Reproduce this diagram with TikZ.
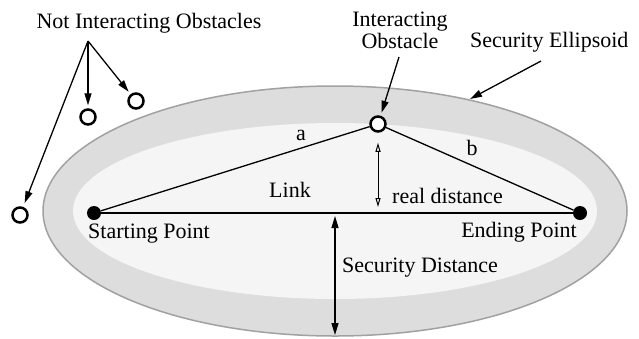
\documentclass[tikz,border=0pt]{standalone}
\usepackage{fontspec}
\setmainfont{Liberation Serif}
\usetikzlibrary{arrows.meta, positioning, calc}
\tikzset{
  obstacle/.style={
    circle, draw=black, line width=2.5pt, fill=white,
    minimum size=15pt, inner sep=0pt
  },
  endpoint/.style={
    circle, fill=black, minimum size=14pt, inner sep=0pt
  },
  lbl/.style={
    font=\fontsize{22}{20}\selectfont, inner sep=0pt
  },
  ptr arrow/.style={
    -{Triangle[length=12pt,width=7pt]}, line width=1.3pt
  },
  dist arrow/.style={
    {Triangle[length=12pt,width=7pt]}-{Triangle[length=12pt,width=7pt]}, line width=1.3pt
  },
  gap arrow/.style={
    {Triangle[open,length=9pt,width=5pt]}-{Triangle[open,length=9pt,width=5pt]}, line width=1pt
  },
  side line/.style={line width=1.3pt},
  link line/.style={line width=2.6pt}
}

\begin{document}
\begin{tikzpicture}[x=1pt, y=-1pt]
  \useasboundingbox (0,0) rectangle (639,338);

  % security ellipsoid
  \draw [draw=gray!74, fill=gray!27, line width=1.5pt] (335,211) ellipse [x radius=292, y radius=125];
  \fill [gray!8] (335,211) ellipse [x radius=262, y radius=88];

  \node (start) [endpoint] at (94,213) {};
  \node (end) [endpoint] at (580,213) {};
  \node (iobs) [obstacle] at (378,124) {};
  \node (nobs1) [obstacle] at (88,117) {};
  \node (nobs2) [obstacle] at (136,101) {};
  \node (nobs3) [obstacle] at (20,215) {};

  \draw [side line] (start) -- (iobs);
  \draw [side line] (iobs) -- (end);
  \draw [link line] (start) -- (end);

  % labels
  \node (nlbl) [lbl, anchor=base] at (149,28) {Not Interacting Obstacles};
  \node (ilbl) [lbl, anchor=base, align=center] at (400,48) {Interacting\\Obstacle};
  \node (elbl) [lbl, anchor=base west] at (470,47) {Security Ellipsoid};
  \node (albl) [lbl, anchor=base] at (301,140) {a};
  \node (blbl) [lbl, anchor=base] at (472,155) {b};
  \node (llbl) [lbl, anchor=base] at (290,197) {Link};
  \node (rlbl) [lbl, anchor=base west] at (392,203) {real distance};
  \node (slbl) [lbl, anchor=base west] at (88,238) {Starting Point};
  \node (eend) [lbl, anchor=base east] at (577,237) {Ending Point};
  \node (dlbl) [lbl, anchor=base west] at (342,272) {Security Distance};

  \coordinate (nsrc) at (88,41);
  \coordinate (isrc) at (399,57);
  \coordinate (esrc) at (541,61);
  \coordinate (eedge) at (470,99);
  \coordinate (rfoot) at (378,213);
  \coordinate (sdtop) at (335,213);
  \coordinate (sdbot) at (335,336);

  \draw [ptr arrow, shorten >=3pt] (nsrc) -- (nobs1);
  \draw [ptr arrow, shorten >=3pt] (nsrc) -- (nobs2);
  \draw [ptr arrow, shorten >=4pt] (nsrc) -- (nobs3);
  \draw [ptr arrow, shorten >=3pt] (isrc) -- (iobs);
  \draw [ptr arrow] (esrc) -- (eedge);
  \draw [gap arrow, shorten <=10pt, shorten >=6pt] (iobs) -- (rfoot);
  \draw [dist arrow, shorten <=3pt, shorten >=1pt] (sdtop) -- (sdbot);
\end{tikzpicture}
\end{document}
